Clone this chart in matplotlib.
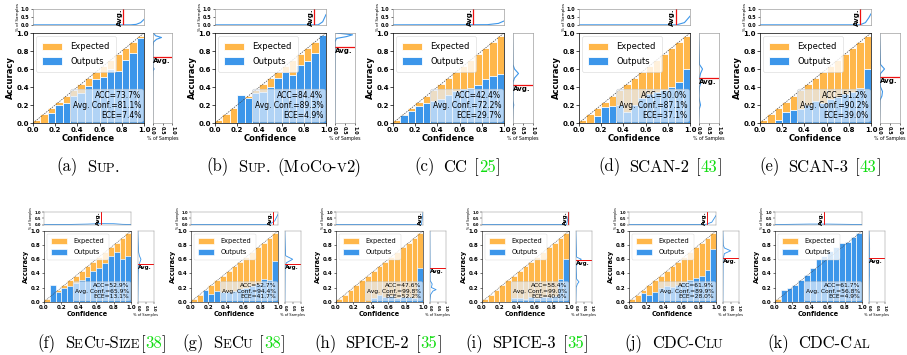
import re
import numpy as np
import matplotlib
matplotlib.use('Agg')
import matplotlib.pyplot as plt
from matplotlib.offsetbox import TextArea, HPacker, AnnotationBbox, DrawingArea

# ---- data ----
letters = ['a', 'b', 'c', 'd', 'e', 'f', 'g', 'h', 'i', 'j', 'k']
names = ['Sup.', 'Sup. (MoCo-v2)', 'CC', 'SCAN-2', 'SCAN-3',
         'SeCu-Size', 'SeCu', 'SPICE-2', 'SPICE-3', 'CDC-Clu', 'CDC-Cal']
cites = ['', '', '25', '43', '43', '38', '38', '35', '35', '', '']
acc_vals = [73.7, 84.4, 42.4, 50.0, 51.2, 52.9, 52.7, 47.6, 58.4, 61.9, 61.7]
conf_vals = [81.1, 89.3, 72.2, 87.1, 90.2, 65.9, 94.4, 99.8, 99.0, 89.9, 56.8]
ece_vals = [7.4, 4.9, 29.7, 37.1, 39.0, 13.1, 41.7, 52.2, 40.6, 28.0, 4.9]

# accuracy of the 15 confidence bins ("Outputs")
out_a = [0, 0, 0.11, 0.196, 0.22, 0.30, 0.333, 0.407, 0.49, 0.507, 0.60, 0.58, 0.70, 0.777, 0.95]
out_b = [0, 0, 0, 0.31, 0.28, 0.33, 0.345, 0.40, 0.50, 0.563, 0.533, 0.64, 0.69, 0.78, 0.975]
out_c = [0, 0.09, 0.137, 0.19, 0.22, 0.25, 0.27, 0.31, 0.36, 0.38, 0.39, 0.42, 0.49, 0.52, 0.55]
out_d = [0, 0, 0.074, 0.178, 0.19, 0.20, 0.12, 0.20, 0.28, 0.32, 0.35, 0.37, 0.40, 0.46, 0.60]
out_e = [0, 0, 0.03, 0.12, 0.15, 0.16, 0.20, 0.25, 0.22, 0.27, 0.29, 0.32, 0.35, 0.39, 0.60]
out_f = [0, 0.235, 0.13, 0.19, 0.22, 0.26, 0.30, 0.35, 0.44, 0.48, 0.55, 0.65, 0.70, 0.61, 0.64]
out_g = [0, 0, 0.17, 0.11, 0.15, 0.13, 0.13, 0.15, 0.18, 0.20, 0.22, 0.25, 0.32, 0.31, 0.58]
out_h = [0, 0, 0, 0, 0, 0, 0.05, 0.10, 0.06, 0.08, 0.05, 0.06, 0.07, 0.05, 0.47]
out_i = [0, 0, 0, 0, 0, 0.05, 0.05, 0.04, 0.06, 0.05, 0.07, 0.06, 0.08, 0.32, 0.60]
out_j = [0, 0, 0.12, 0.10, 0.14, 0.20, 0.22, 0.21, 0.24, 0.28, 0.31, 0.33, 0.37, 0.45, 0.74]
out_k = [0, 0.17, 0.20, 0.24, 0.30, 0.38, 0.48, 0.60, 0.65, 0.71, 0.78, 0.83, 0.85, 0.91, 0.97]
outputs = [out_a, out_b, out_c, out_d, out_e, out_f, out_g, out_h, out_i, out_j, out_k]

# confidence histogram (top strip): x = confidence, y = % of samples
top_x = [[0, 0.88, 0.93, 0.97, 1.0], [0, 0.93, 0.97, 1.0], [0, 0.85, 0.95, 1.0],
         [0, 0.88, 0.95, 1.0], [0, 0.9, 0.95, 0.98, 1.0],
         [0, 0.3, 0.5, 0.65, 0.8, 0.9, 1.0], [0, 0.9, 0.96, 1.0], [0, 0.98, 1.0],
         [0, 0.97, 1.0], [0, 0.88, 0.95, 1.0], [0, 0.2, 0.4, 0.6, 0.8, 1.0]]
top_y = [[0.01, 0.01, 0.04, 0.15, 0.35], [0.01, 0.01, 0.2, 0.65], [0.01, 0.02, 0.1, 0.25],
         [0.01, 0.01, 0.15, 0.55], [0.01, 0.01, 0.15, 0.45, 0.7],
         [0.01, 0.02, 0.05, 0.09, 0.08, 0.03, 0.01], [0.01, 0.02, 0.3, 0.85], [0.01, 0.01, 1.0],
         [0.01, 0.02, 1.0], [0.01, 0.02, 0.2, 0.75], [0.01, 0.03, 0.05, 0.05, 0.03, 0.01]]

# accuracy histogram (right strip): y = accuracy, x = % of samples
side_y = [[0, 0.5, 0.58, 0.6, 0.62, 0.85, 0.9, 0.93, 0.95, 0.97, 1.0],
          [0, 0.9, 0.94, 0.96, 0.98, 1.0],
          [0, 0.15, 0.2, 0.25, 0.45, 0.5, 0.55, 0.6, 0.65, 1.0],
          [0, 0.15, 0.2, 0.25, 0.3, 0.4, 0.45, 0.5, 0.55, 0.6, 0.65, 1.0],
          [0, 0.25, 0.3, 0.35, 0.4, 0.5, 0.55, 0.6, 0.65, 1.0],
          [0, 0.4, 0.5, 0.55, 0.6, 0.65, 0.7, 1.0],
          [0, 0.5, 0.55, 0.6, 0.65, 1.0],
          [0, 0.1, 0.15, 0.17, 0.2, 0.25, 0.3, 1.0],
          [0, 0.2, 0.25, 0.28, 0.32, 0.5, 0.57, 0.6, 0.63, 1.0],
          [0, 0.6, 0.68, 0.72, 0.76, 0.8, 1.0],
          [0, 0.3, 0.45, 0.6, 0.75, 0.9, 1.0]]
side_x = [[0, 0.01, 0.02, 0.08, 0.02, 0.02, 0.05, 0.2, 0.45, 0.15, 0.05],
          [0.01, 0.02, 0.1, 0.6, 0.9, 0.1],
          [0, 0.02, 0.06, 0.02, 0.02, 0.1, 0.3, 0.1, 0.02, 0],
          [0, 0.03, 0.1, 0.05, 0.02, 0.05, 0.12, 0.05, 0.1, 0.2, 0.05, 0],
          [0, 0.02, 0.12, 0.15, 0.05, 0.02, 0.05, 0.25, 0.05, 0],
          [0, 0.03, 0.05, 0.12, 0.2, 0.1, 0.05, 0],
          [0, 0.02, 0.1, 0.5, 0.05, 0],
          [0, 0.05, 0.2, 0.4, 0.1, 0.15, 0.02, 0],
          [0, 0.02, 0.1, 0.2, 0.05, 0.02, 0.15, 0.35, 0.05, 0],
          [0, 0.02, 0.1, 0.5, 0.1, 0.03, 0],
          [0.01, 0.03, 0.05, 0.04, 0.05, 0.03, 0.01]]

n_bins = 15
bin_centers = (np.arange(n_bins) + 0.5) / n_bins

ORANGE = '#ffb74a'
BLUE = '#3c96ea'
RED = '#ee1111'
GREEN = '#11dd11'

W, H = 907, 355
fig = plt.figure(figsize=(W / 100, H / 100), dpi=100)


def px_axes(l, t, w, h):
    return fig.add_axes([l / W, 1 - (t + h) / H, w / W, h / H])


def bold_ticks(ax):
    for lbl in ax.get_xticklabels() + ax.get_yticklabels():
        lbl.set_fontweight('bold')


def draw_panel(i, left, top, s):
    mw, mh = 111 * s, 90 * s
    fs = 5.0 * s
    sm = 3.5 * s
    ax = px_axes(left, top, mw, mh)
    ax.bar(bin_centers, bin_centers, width=1 / n_bins, color=ORANGE,
           edgecolor='white', linewidth=0.6 * s, label='Expected')
    ax.bar(bin_centers, outputs[i], width=1 / n_bins, color=BLUE,
           edgecolor='white', linewidth=0.6 * s, label='Outputs')
    ax.plot([0, 1], [0, 1], '--', color='#444444', lw=0.5 * s, dashes=(2, 1.5))
    ax.set_xlim(0, 1)
    ax.set_ylim(0, 1)
    ax.set_xticks(np.arange(0, 1.01, 0.2))
    ax.set_yticks(np.arange(0, 1.01, 0.2))
    ax.tick_params(labelsize=fs, length=2 * s, width=0.5 * s, pad=1)
    bold_ticks(ax)
    ax.set_xlabel('Confidence', fontsize=6.0 * s, fontweight='bold', labelpad=0.5)
    ax.set_ylabel('Accuracy', fontsize=6.0 * s, fontweight='bold', labelpad=1)
    for sp in ax.spines.values():
        sp.set_linewidth(0.5 * s)
    ax.legend(loc='upper left', fontsize=6.0 * s, handlelength=2.4, handleheight=1.0,
              borderpad=0.7, labelspacing=0.7, handletextpad=1.0, borderaxespad=0.4,
              framealpha=0.8, edgecolor='#cccccc').get_frame().set_linewidth(0.4 * s)
    txt = 'ACC=%.1f%%\nAvg. Conf.=%.1f%%\nECE=%.1f%%' % (acc_vals[i], conf_vals[i], ece_vals[i])
    ax.text(0.975, 0.035, txt, transform=ax.transAxes, ha='right', va='bottom',
            fontsize=5.5 * s, linespacing=1.1,
            bbox=dict(boxstyle='round,pad=0.3', facecolor='#e4eefa', alpha=0.7,
                      edgecolor='#bbbbbb', linewidth=0.4 * s))

    # top strip: confidence distribution
    axt = px_axes(left, top - (8 + 16) * s, mw, 16 * s)
    axt.plot(top_x[i], top_y[i], color=BLUE, lw=0.8 * s)
    c = conf_vals[i] / 100
    axt.axvline(c, color=RED, lw=0.9 * s)
    axt.text(c - 0.004, 0.5, 'Avg.', rotation=90, ha='right', va='center',
             fontsize=5.0 * s, fontweight='bold')
    axt.set_xlim(0, 1)
    axt.set_ylim(0, 1.0)
    axt.set_xticks([])
    axt.set_yticks([0, 0.5, 1.0])
    axt.tick_params(labelsize=sm, length=1.5 * s, width=0.4 * s, pad=1)
    bold_ticks(axt)
    axt.set_ylabel('% of Samples', fontsize=3.0 * s, labelpad=1)
    for sp in axt.spines.values():
        sp.set_linewidth(0.4 * s)
        sp.set_color('#888888')

    # right strip: accuracy distribution
    axr = px_axes(left + mw + 8.5 * s, top, 20 * s, mh)
    axr.plot(side_x[i], side_y[i], color=BLUE, lw=0.8 * s)
    a = acc_vals[i] / 100
    axr.axhline(a, color=RED, lw=0.9 * s)
    axr.text(0.03, a - 0.01, 'Avg.', ha='left', va='top',
             fontsize=5.0 * s, fontweight='bold')
    axr.set_xlim(0, 1)
    axr.set_ylim(0, 1)
    axr.set_yticks([])
    axr.set_xticks([0, 0.5, 1.0])
    axr.set_xticklabels(['0.0', '0.5', '1.0'], rotation=-90)
    axr.tick_params(labelsize=sm, length=1.5 * s, width=0.4 * s, pad=1)
    bold_ticks(axr)
    axr.set_xlabel('% of Samples', fontsize=3.3 * s, labelpad=1)
    for sp in axr.spines.values():
        sp.set_linewidth(0.4 * s)
        sp.set_color('#888888')


def caption(i, cx, cy, size=12):
    kids = [TextArea('(%s)' % letters[i], textprops=dict(family='cmr10', size=size)),
            DrawingArea(size * 0.55, 1)]
    words = names[i].split(' ')
    for k, word in enumerate(words):
        if k > 0:
            kids.append(DrawingArea(size * 0.4, 1))
        for run in re.findall(r'[a-z]+|[^a-z]+', word):
            if run.islower():
                kids.append(TextArea(run.upper(), textprops=dict(family='cmr10', size=size * 0.78)))
            else:
                kids.append(TextArea(run, textprops=dict(family='cmr10', size=size)))
    if cites[i]:
        if names[i] != 'SeCu-Size':
            kids.append(DrawingArea(size * 0.4, 1))
        kids.append(TextArea('[', textprops=dict(family='cmr10', size=size)))
        kids.append(TextArea(cites[i], textprops=dict(family='cmr10', size=size, color=GREEN)))
        kids.append(TextArea(']', textprops=dict(family='cmr10', size=size)))
    box = HPacker(children=kids, align='baseline', pad=0, sep=0)
    ab = AnnotationBbox(box, (cx / W, 1 - cy / H), xycoords='figure fraction',
                        frameon=False, box_alignment=(0.5, 0.5))
    fig.add_artist(ab)


top_lefts = [33, 215, 393, 579, 760]
bot_lefts = [44, 191, 336, 482, 629, 775]
top_caps = [88, 284, 457, 660, 820]
bot_caps = [102, 234, 378, 527, 674, 819]

for k in range(5):
    draw_panel(k, top_lefts[k], 33, 1.0)
    caption(k, top_caps[k], 167)
for k in range(6):
    draw_panel(5 + k, bot_lefts[k], 231, 0.785)
    caption(5 + k, bot_caps[k], 344)

fig.savefig('out.png', dpi=100)
